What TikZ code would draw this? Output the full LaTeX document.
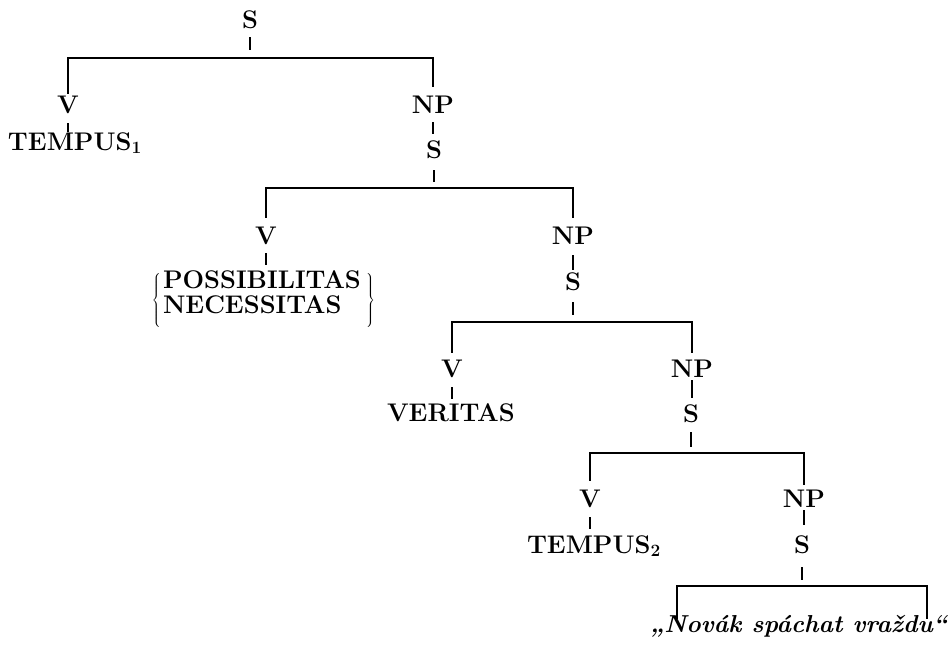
\documentclass[tikz,border=0pt]{standalone}
\usetikzlibrary{calc}
\begin{document}
\begin{tikzpicture}[x=1pt,y=-1pt,
  every node/.style={inner sep=0pt,outer sep=0pt,font=\bfseries\fontsize{25.5}{25}\selectfont},
  lab/.style={anchor=base,text height=17.4pt,text depth=0pt},
  val/.style={anchor=base west,text height=17.4pt,text depth=0pt},
  brace/.style={font=\fontsize{25}{25}\selectfont},
  edge/.style={line width=1.3pt},
]
\useasboundingbox (0,0) rectangle (949,646);

% ---- nodes: categories
\node[lab] (s0)  at (250,28)  {S};
\node[lab] (v1)  at (68,113)  {V};
\node[lab] (np1) at (433,113) {NP};
\node[lab] (s1)  at (434,158) {S};
\node[lab] (v2)  at (266,244) {V};
\node[lab] (np2) at (573,244) {NP};
\node[lab] (s2)  at (573,290) {S};
\node[lab] (v3)  at (452,377) {V};
\node[lab] (np3) at (692,377) {NP};
\node[lab] (s3)  at (691,422) {S};
\node[lab] (v4)  at (590,507) {V};
\node[lab] (np4) at (804,507) {NP};
\node[lab] (s4)  at (802,553) {S};

% ---- nodes: lexical values
\node[val] (t1)  at (8,150)   {TEMPUS$_{\mathbf{1}}$};
\node[anchor=west] (mod) at (163,296)
  {\begin{tabular}{@{}l@{}}POSSIBILITAS\\NECESSITAS\end{tabular}};
\node[brace,anchor=east] (lb) at (162,300) {$\left\{\vcenter{\hbox{\rule{0pt}{54pt}}}\right.$};
\node[brace,anchor=west] (rb) at (365,300) {$\left.\vcenter{\hbox{\rule{0pt}{54pt}}}\right\}$};
\node[val] (ver) at (387,421) {VERITAS};
\node[val] (t2)  at (527,553) {TEMPUS$_{\mathbf{2}}$};
\node[anchor=base west,font=\bfseries\itshape\fontsize{24.5}{26}\selectfont] (q) at (650,632)
  {„Novák spáchat vraždu“};

% ---- branching points
\coordinate (c1) at (250,58);
\coordinate (c2) at (433,188);
\coordinate (c3) at (574,322);
\coordinate (c4) at (692,453);
\coordinate (c5) at (801,586);
\coordinate (ql) at (677,619);
\coordinate (qr) at (927,619);

% ---- S to its branching bar
\draw[edge,shorten <=9pt,shorten >=8pt]  (s0.south) -- (c1);
\draw[edge,shorten <=12pt,shorten >=6pt] (s1.south) -- (s1.south |- c2);
\draw[edge,shorten <=12pt,shorten >=7pt] (s2.south) -- (s2.south |- c3);
\draw[edge,shorten <=10pt,shorten >=6pt] (s3.south) -- (s3.south |- c4);
\draw[edge,shorten <=14pt,shorten >=6pt] (s4.south) -- (s4.south |- c5);

% ---- branching bars down to V and NP
\draw[edge,shorten <=2pt,shorten >=9pt]  (v1.north) |- (c1) -| (np1.north);
\draw[edge,shorten <=9pt,shorten >=9pt] (v2.north) |- (c2) -| (np2.north);
\draw[edge,shorten <=7pt,shorten >=7pt]  (v3.north) |- (c3) -| (np3.north);
\draw[edge,shorten <=9pt,shorten >=5pt] (v4.north) |- (c4) -| (np4.north);
\draw[edge] (ql) |- (c5) -| (qr);

% ---- V to its value, NP to S
\draw[edge,shorten <=10pt,shorten >=1pt] (v1.south) -- (v1.south |- t1.north);
\draw[edge,shorten <=9pt,shorten >=7pt]  (np1.south) -- (np1.south |- s1.north);
\draw[edge,shorten <=9pt] (v2.south) -- (v2.south |- 0,265);
\draw[edge,shorten <=11pt,shorten >=3pt] (np2.south) -- (np2.south |- s2.north);
\draw[edge,shorten <=10pt,shorten >=5pt] (v3.south) -- (v3.south |- ver.north);
\draw[edge,shorten <=3pt,shorten >=7pt]  (np3.south) -- (np3.south |- s3.north);
\draw[edge,shorten <=10pt,shorten >=7pt] (v4.south) -- (v4.south |- t2.north);
\draw[edge,shorten <=3pt,shorten >=11pt] (np4.south) -- (np4.south |- s4.north);
\end{tikzpicture}
\end{document}
